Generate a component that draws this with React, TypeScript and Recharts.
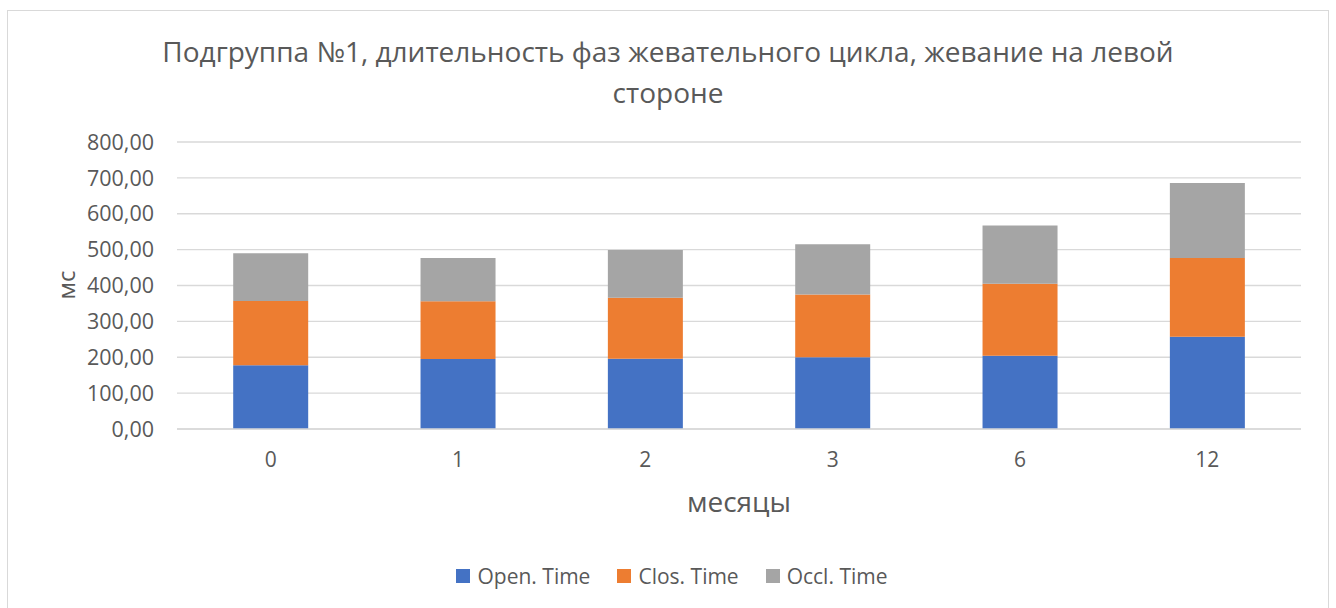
import React from 'react';
import { BarChart, Bar, XAxis, YAxis, CartesianGrid } from 'recharts';

const months = ['0', '1', '2', '3', '6', '12'];
const openTime = [178, 195, 196, 200, 204, 257];
const closTime = [179, 161, 170, 175, 201, 220];
const occlTime = [133, 121, 133, 140, 162, 209];
const yTicks = [0, 100, 200, 300, 400, 500, 600, 700, 800];

const titleLines = ['Подгруппа №1, длительность фаз жевательного цикла, жевание на левой', 'стороне'];

const seriesList = [
  { key: 'open', name: 'Open. Time', color: '#4472C4' },
  { key: 'clos', name: 'Clos. Time', color: '#ED7D31' },
  { key: 'occl', name: 'Occl. Time', color: '#A5A5A5' },
];

const data = months.map((m, i) => ({
  month: m,
  open: openTime[i],
  clos: closTime[i],
  occl: occlTime[i],
}));

const FONT = '"Open Sans", "Noto Sans", sans-serif';
const TEXT = '#595959';

const fmt = (v: number) => v.toFixed(2).replace('.', ',');

export default function App() {
  return (
    <div style={{ position: 'absolute', left: 0, top: 0, width: 1336, height: 608, overflow: 'hidden', background: '#fff' }}>
      <div style={{ position: 'absolute', left: 7, top: 10, width: 1322, height: 640, border: '1.5px solid #d9d9d9', boxSizing: 'border-box' }} />
      <div style={{ position: 'absolute', left: 0, top: 31, width: 1336, textAlign: 'center', fontFamily: FONT, fontSize: 28, color: TEXT, lineHeight: '41px' }}>
        {titleLines.map(l => <div key={l}>{l}</div>)}
      </div>
      <div style={{ position: 'absolute', left: 65, top: 285, transform: 'translate(-50%, -50%) rotate(-90deg)', fontFamily: FONT, fontSize: 24, color: TEXT }}>
        мс
      </div>
      <div style={{ position: 'absolute', left: 539, top: 482, width: 400, textAlign: 'center', fontFamily: FONT, fontSize: 28, color: TEXT }}>
        месяцы
      </div>
      <div style={{ position: 'absolute', left: 0, top: 0 }}>
        <BarChart width={1336} height={608} data={data} margin={{ top: 142, right: 35, bottom: 149, left: 0 }} barCategoryGap="30%">
          <CartesianGrid vertical={false} stroke="#d9d9d9" strokeWidth={1.3} />
          <XAxis
            dataKey="month"
            height={30}
            tickLine={false}
            axisLine={{ stroke: '#d9d9d9', strokeWidth: 1.3 }}
            tickSize={0}
            tickMargin={23}
            tick={{ fill: TEXT, fontSize: 21, fontFamily: FONT }}
          />
          <YAxis
            width={177}
            domain={[0, 800]}
            ticks={yTicks}
            tickFormatter={fmt}
            axisLine={false}
            tickLine={false}
            tickSize={0}
            tickMargin={23}
            tick={{ fill: TEXT, fontSize: 21.5, fontFamily: FONT }}
          />
          {seriesList.map(s => (
            <Bar key={s.key} dataKey={s.key} name={s.name} stackId="a" fill={s.color} isAnimationActive={false} />
          ))}
        </BarChart>
      </div>
      <div style={{ position: 'absolute', left: 272, top: 562, width: 800, display: 'flex', justifyContent: 'center', alignItems: 'center', gap: 27, fontFamily: FONT, fontSize: 21, color: TEXT }}>
        {seriesList.map(s => (
          <div key={s.key} style={{ display: 'flex', alignItems: 'center', gap: 7 }}>
            <span style={{ width: 14, height: 14, background: s.color, display: 'inline-block' }} />
            <span>{s.name}</span>
          </div>
        ))}
      </div>
    </div>
  );
}
